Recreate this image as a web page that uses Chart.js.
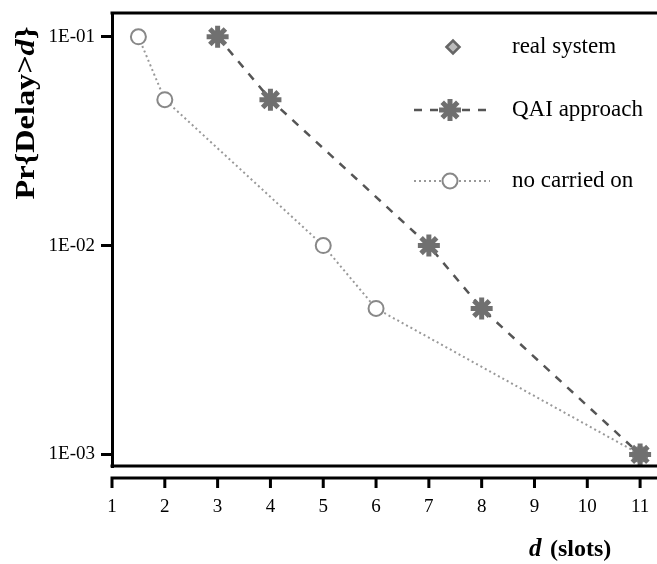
<!DOCTYPE html>
<html>
<head>
<meta charset="utf-8">
<script src="https://cdn.jsdelivr.net/npm/chart.js@4"></script>
<style>
  html, body { margin: 0; padding: 0; background: #fff; }
  #wrap { width: 657px; height: 564px; }
</style>
</head>
<body>
<div id="wrap"><canvas id="chart" width="657" height="564"></canvas></div>
<script>
// data
const xTicks = [1, 2, 3, 4, 5, 6, 7, 8, 9, 10, 11];
const yTicks = [0.1, 0.01, 0.001];
const yTickLabels = ['1E-01', '1E-02', '1E-03'];

const seriesNames = ['real system', 'QAI approach', 'no carried on'];
const realX = [];
const realY = [];
const qaiX = [3, 4, 7, 8, 11];
const qaiY = [0.1, 0.05, 0.01, 0.005, 0.001];
const noCarryX = [1.5, 2, 5, 6, 11];
const noCarryY = [0.1, 0.05, 0.01, 0.005, 0.001];

const serif = '"Liberation Serif", "DejaVu Serif", serif';

const toPoints = (xs, ys) => xs.map((x, i) => ({ x: x, y: ys[i] }));

const datasets = [
    {
        label: seriesNames[0],
        data: toPoints(realX, realY),
        showLine: false,
        pointStyle: 'rectRot',
        pointRadius: 7,
        pointBorderWidth: 2.5,
        pointBorderColor: '#666',
        pointBackgroundColor: '#bbb',
        borderColor: '#666'
    },
    {
        label: seriesNames[1],
        data: toPoints(qaiX, qaiY),
        borderColor: '#555',
        borderWidth: 2.5,
        borderDash: [8, 8],
        pointStyle: 'star',
        pointRadius: 11,
        pointBorderWidth: 5,
        pointBorderColor: '#707070',
        pointBackgroundColor: '#707070'
    },
    {
        label: seriesNames[2],
        data: toPoints(noCarryX, noCarryY),
        borderColor: '#999',
        borderWidth: 2,
        borderDash: [2, 3],
        pointStyle: 'circle',
        pointRadius: 7.5,
        pointBorderWidth: 2,
        pointBorderColor: '#888',
        pointBackgroundColor: '#fff'
    }
];
datasets.forEach(d => { d.clip = false; d.tension = 0; d.fill = false; });

// frame lines, offset x axis, titles and legend
const framePlugin = {
    id: 'frame',
    afterDraw(chart) {
        const ctx = chart.ctx;
        const area = chart.chartArea;
        const xs = chart.scales.x;
        ctx.save();
        ctx.strokeStyle = '#000';
        ctx.lineWidth = 3;
        ctx.setLineDash([]);
        ctx.beginPath();
        ctx.moveTo(area.left - 1.5, area.top);
        ctx.lineTo(area.right, area.top);
        ctx.moveTo(area.left - 1.5, area.bottom);
        ctx.lineTo(area.right, area.bottom);
        const axisY = area.bottom + 12;
        ctx.moveTo(area.left - 1.5, axisY);
        ctx.lineTo(area.right, axisY);
        xTicks.forEach(v => {
            const px = xs.getPixelForValue(v);
            ctx.moveTo(px, axisY);
            ctx.lineTo(px, axisY + 10);
        });
        ctx.stroke();

        // y title, mixed bold / bold italic
        ctx.save();
        ctx.translate(27, 113);
        ctx.rotate(-Math.PI / 2);
        ctx.fillStyle = '#000';
        ctx.textBaseline = 'middle';
        ctx.textAlign = 'left';
        const parts = [['Pr{Delay>', 'bold'], ['d', 'bold italic'], ['}', 'bold']];
        const size = 27;
        let total = 0;
        const widths = parts.map(p => {
            ctx.font = p[1] + ' ' + size + 'px ' + serif;
            const w = ctx.measureText(p[0]).width;
            total += w;
            return w;
        });
        const stretch = 173 / total;
        ctx.scale(stretch, 1);
        let x0 = -total / 2;
        parts.forEach((p, i) => {
            ctx.font = p[1] + ' ' + size + 'px ' + serif;
            ctx.fillText(p[0], x0, 0);
            x0 += widths[i];
        });
        ctx.restore();

        // x title
        ctx.fillStyle = '#000';
        ctx.textBaseline = 'middle';
        ctx.textAlign = 'left';
        ctx.font = 'bold italic 25px ' + serif;
        ctx.fillText('d', 529, 550);
        ctx.font = 'bold 24px ' + serif;
        ctx.fillText('(slots)', 550, 550);

        // legend
        const rows = [47, 110, 181];
        const lineX0 = 414, lineX1 = 490, markX = 450;
        chart.data.datasets.forEach((ds, i) => {
            const y = rows[i];
            if (ds.showLine !== false) {
                ctx.strokeStyle = ds.borderColor;
                ctx.lineWidth = ds.borderWidth;
                ctx.setLineDash(ds.borderDash || []);
                ctx.beginPath();
                ctx.moveTo(lineX0, y);
                ctx.lineTo(lineX1, y);
                ctx.stroke();
                ctx.setLineDash([]);
            }
            ctx.strokeStyle = ds.pointBorderColor;
            ctx.fillStyle = ds.pointBackgroundColor;
            ctx.lineWidth = ds.pointBorderWidth;
            Chart.helpers.drawPoint(ctx, {
                pointStyle: ds.pointStyle,
                radius: ds.showLine === false ? 6.5 : ds.pointRadius,
                borderWidth: ds.pointBorderWidth,
                rotation: 0
            }, ds.showLine === false ? 453 : markX, y);
            ctx.fillStyle = '#000';
            ctx.font = '23px ' + serif;
            ctx.textAlign = 'left';
            ctx.textBaseline = 'middle';
            ctx.fillText(ds.label, 512, y);
        });
        ctx.restore();
    }
};

new Chart(document.getElementById('chart'), {
    type: 'line',
    data: { datasets: datasets },
    options: {
        responsive: false,
        animation: false,
        layout: { autoPadding: false, padding: { top: 13, left: 0, right: 0, bottom: 0 } },
        plugins: {
            legend: { display: false },
            tooltip: { enabled: false },
            title: { display: false }
        },
        scales: {
            x: {
                type: 'linear',
                min: 1,
                max: 11.32,
                afterBuildTicks: s => { s.ticks = xTicks.map(v => ({ value: v })); },
                afterFit: s => { s.height = 98; s.paddingLeft = 0; s.paddingRight = 0; },
                grid: { display: false, drawTicks: false },
                border: { display: false },
                ticks: {
                    color: '#000',
                    padding: 30,
                    maxRotation: 0,
                    autoSkip: false,
                    font: { family: serif, size: 19 }
                }
            },
            y: {
                type: 'logarithmic',
                min: 0.00088,
                max: 0.13,
                afterBuildTicks: s => { s.ticks = yTicks.map(v => ({ value: v })); },
                afterFit: s => { s.width = 112; s.paddingTop = 0; s.paddingBottom = 0; },
                grid: { drawOnChartArea: false, drawTicks: true, tickLength: 11, lineWidth: 3, color: '#000' },
                border: { display: true, width: 3, color: '#000' },
                ticks: {
                    color: '#000',
                    padding: 6,
                    autoSkip: false,
                    font: { family: serif, size: 19 },
                    callback: v => yTickLabels[yTicks.indexOf(v)]
                }
            }
        }
    },
    plugins: [framePlugin]
});
</script>
</body>
</html>
